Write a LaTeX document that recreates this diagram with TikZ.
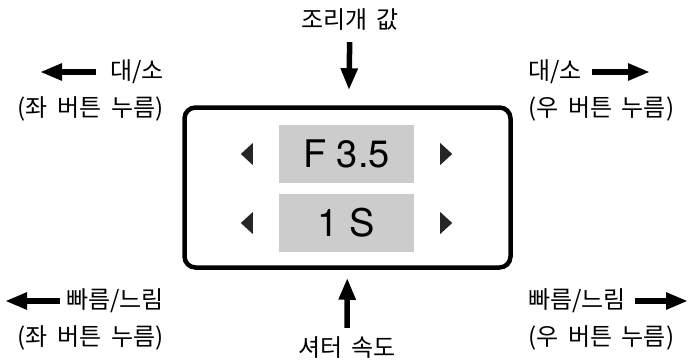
\documentclass[tikz,border=0pt]{standalone}
\usepackage{fontspec}
\setmainfont{TeX Gyre Heros}
\newfontfamily\krfont[WordSpace=1.8]{Noto Sans CJK KR}
\usepackage{tikz}
\usetikzlibrary{arrows.meta,positioning,calc}

\begin{document}
\begin{tikzpicture}[x=1pt,y=-1pt,
    lbl/.style={inner sep=0pt,font=\krfont\fontsize{24}{28}\selectfont},
    fat/.style={line width=5.5pt,-{Triangle[length=22pt,width=16pt]}},
    panel/.style={draw,line width=4.5pt,rounded corners=11pt,
      minimum width=326pt,minimum height=160pt},
    field/.style={fill=gray!40,inner sep=0pt,minimum width=135pt,
      minimum height=58pt,font=\fontsize{38}{44}\selectfont}]
  \useasboundingbox (0,0) rectangle (690,361);
  \node[panel] (panel) at (347.5,187.5) {};
  \foreach \v/\nm/\y in {F 3.5/fa/154, 1 S/fs/223}{
    \node[field] (\nm) at (346.5,\y) {\v};
    \fill[black!85] ($(\nm.west)+(-26,-11)$) -- ++(0,22) -- ++(-12,-11) -- cycle;
    \fill[black!85] ($(\nm.east)+(26,-11)$) -- ++(0,22) -- ++(12,-11) -- cycle;
  }
  % top and bottom
  \node[lbl] (ap) at (350,20) {조리개 값};
  \node[lbl] (sh) at (347,348) {셔터 속도};
  \draw[fat,shorten <=11pt,shorten >=15pt] (ap) -- (panel);
  \draw[fat,shorten <=9pt,shorten >=8pt] (sh) -- (panel);
  % upper sides
  \node[lbl,anchor=east] (zl) at (164,72) {대/소};
  \node[lbl,anchor=east] (zlp) at (164,109) {(좌 버튼 누름)};
  \coordinate (zlt) at (40,72);
  \draw[fat,shorten <=14pt] (zl) -- (zlt);
  \node[lbl,anchor=west] (zr) at (528,72) {대/소};
  \node[lbl,anchor=west] (zrp) at (528,109) {(우 버튼 누름)};
  \coordinate (zrt) at (650,72);
  \draw[fat,shorten <=10pt] (zr) -- (zrt);
  % lower sides
  \node[lbl,anchor=east] (sl) at (164,301) {빠름/느림};
  \node[lbl,anchor=east] (slp) at (164,338) {(좌 버튼 누름)};
  \coordinate (slt) at (5,301);
  \draw[fat,shorten <=6pt] (sl) -- (slt);
  \node[lbl,anchor=west] (sr) at (528,301) {빠름/느림};
  \node[lbl,anchor=west] (srp) at (528,338) {(우 버튼 누름)};
  \coordinate (srt) at (688,301);
  \draw[fat,shorten <=9pt] (sr) -- (srt);
\end{tikzpicture}
\end{document}
